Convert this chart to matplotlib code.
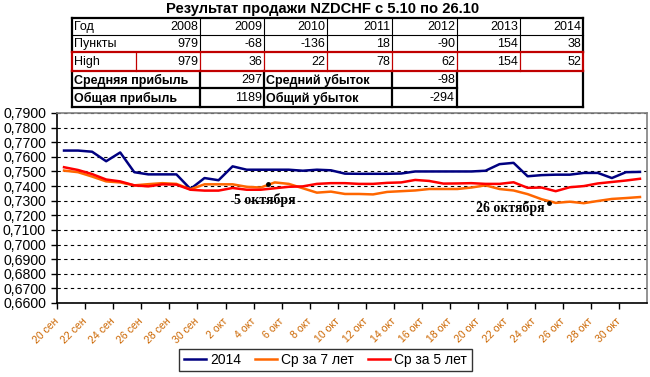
import matplotlib
matplotlib.use("Agg")
import matplotlib.pyplot as plt
from matplotlib import font_manager
from matplotlib.lines import Line2D
from matplotlib.ticker import FuncFormatter, MultipleLocator

# ---------------- data ----------------
tick_labels = ["20 сен", "22 сен", "24 сен", "26 сен", "28 сен", "30 сен",
               "2 окт", "4 окт", "6 окт", "8 окт", "10 окт", "12 окт", "14 окт",
               "16 окт", "18 окт", "20 окт", "22 окт", "24 окт", "26 окт",
               "28 окт", "30 окт"]

s2014 = [0.7643, 0.7643, 0.7635, 0.7570, 0.7630, 0.7495, 0.7480, 0.7480,
         0.7480, 0.7380, 0.7455, 0.7440, 0.7535, 0.7512, 0.7512, 0.7512,
         0.7512, 0.7505, 0.7512, 0.7508, 0.7485, 0.7484, 0.7484, 0.7484,
         0.7486, 0.7500, 0.7500, 0.7500, 0.7500, 0.7500, 0.7505, 0.7550,
         0.7559, 0.7467, 0.7475, 0.7478, 0.7478, 0.7490, 0.7490, 0.7455,
         0.7495, 0.7497]

avg7 = [0.7506, 0.7495, 0.7465, 0.7432, 0.7425, 0.7405, 0.7413, 0.7420,
        0.7415, 0.7378, 0.7412, 0.7412, 0.7412, 0.7395, 0.7390, 0.7425,
        0.7415, 0.7385, 0.7355, 0.7362, 0.7346, 0.7346, 0.7343, 0.7360,
        0.7365, 0.7370, 0.7380, 0.7380, 0.7380, 0.7390, 0.7405, 0.7380,
        0.7370, 0.7345, 0.7310, 0.7285, 0.7293, 0.7283, 0.7298, 0.7312,
        0.7318, 0.7325]

avg5 = [0.7529, 0.7510, 0.7482, 0.7445, 0.7432, 0.7405, 0.7398, 0.7412,
        0.7410, 0.7375, 0.7369, 0.7369, 0.7387, 0.7375, 0.7375, 0.7385,
        0.7395, 0.7398, 0.7415, 0.7420, 0.7420, 0.7415, 0.7415, 0.7422,
        0.7425, 0.7442, 0.7435, 0.7417, 0.7418, 0.7420, 0.7415, 0.7415,
        0.7426, 0.7388, 0.7390, 0.7365, 0.7392, 0.7400, 0.7418, 0.7428,
        0.7438, 0.7450]

series_names = ["2014", "Ср за 7 лет", "Ср за 5 лет"]

marks = [(15, 0.7415, "5 октября"), (35, 0.7287, "26 октября")]

title = "Результат продажи NZDCHF с 5.10 по 26.10"
years = ["2008", "2009", "2010", "2011", "2012", "2013", "2014"]
points = [979, -68, -136, 18, -90, 154, 38]
high = [979, 36, 22, 78, 62, 154, 52]
avg_profit, avg_loss = 297, -98
total_profit, total_loss = 1189, -294

# ---------------- fonts ----------------
def have(name):
    try:
        font_manager.findfont(name, fallback_to_default=False)
        return True
    except Exception:
        return False

narrow = "Liberation Sans Narrow" if have("Liberation Sans Narrow") else None
tfam = [narrow, "DejaVu Sans"] if narrow else ["Liberation Sans", "DejaVu Sans"]
tsize = 9.5 if narrow else 9.0
plt.rcParams["font.family"] = ["Liberation Sans", "DejaVu Sans"]

W, H = 650, 377
fig = plt.figure(figsize=(W / 100, H / 100), dpi=100)

# ---------------- chart ----------------
L, R, T, B = 57, 647, 113, 303
ax = fig.add_axes([L / W, (H - B) / H, (R - L) / W, (B - T) / H])
n = len(s2014)
xs = [i + 0.5 for i in range(n)]
ax.plot(xs, s2014, color="#000080", lw=1.8, label=series_names[0], zorder=3)
ax.plot(xs, avg7, color="#FF6600", lw=1.8, label=series_names[1], zorder=3)
ax.plot(xs, avg5, color="#FF0000", lw=1.8, label=series_names[2], zorder=3)

ax.set_xlim(0, 42)
ax.set_ylim(0.66, 0.79)
ax.yaxis.set_major_locator(MultipleLocator(0.01))
ax.yaxis.set_major_formatter(FuncFormatter(lambda v, p: f"{v:.4f}".replace(".", ",")))
ax.set_xticks(range(0, 2 * len(tick_labels), 2))
ax.set_xticklabels(tick_labels, rotation=45, ha="right", va="center",
                   rotation_mode="anchor", color="#CC6600", fontsize=7.6)
ax.tick_params(axis="x", length=4, width=1, pad=8, direction="out")
ax.tick_params(axis="y", length=4, width=1, pad=4, labelsize=10.2)
ax.grid(axis="y", color="black", linestyle=(0, (3, 3)), linewidth=0.8)
ax.spines["left"].set_color("black")
ax.spines["bottom"].set_color("black")
ax.spines["top"].set_color("#808080")
ax.spines["right"].set_color("#808080")
for s in ax.spines.values():
    s.set_linewidth(1.2)

for xv, yv, txt in marks:
    ax.plot([xv], [yv], "o", color="black", ms=2.5, zorder=4)
ax.text(14.8, 0.7307, marks[0][2], family=["Liberation Serif"], weight="bold",
        fontsize=10, ha="center", va="center", zorder=5)
ax.text(32.3, 0.7253, marks[1][2], family=["Liberation Serif"], weight="bold",
        fontsize=10, ha="center", va="center", zorder=5)

leg = fig.legend(loc="center", bbox_to_anchor=(325.5 / W, 1 - 360 / H), ncol=3,
                 frameon=True, fancybox=False, edgecolor="black", fontsize=10,
                 handlelength=1.6, handletextpad=0.3, columnspacing=1.0,
                 borderpad=0.3, borderaxespad=0)
leg.get_frame().set_linewidth(1.0)

# ---------------- table ----------------
ov = fig.add_axes([0, 0, 1, 1])
ov.set_xlim(0, W)
ov.set_ylim(H, 0)
ov.axis("off")

fig.text(323 / W, 1 - 8.5 / H, title, family=tfam, weight="bold",
         fontsize=10.6, ha="center", va="center")

x0, x1 = 72, 583
cols = [200, 264, 327, 392, 457, 520, 583]
rows = [18, 35, 52, 71, 88, 107]
blk, red = "black", "#C00000"

def hl(y, xa, xb, c, lw):
    ov.add_line(Line2D([xa, xb], [y, y], color=c, lw=lw, solid_capstyle="projecting"))

def vl(x, ya, yb, c, lw):
    ov.add_line(Line2D([x, x], [ya, yb], color=c, lw=lw, solid_capstyle="projecting"))

# rows 0-1
hl(rows[0], x0, x1, blk, 1.6)
hl(rows[1], x0, x1, blk, 0.8)
vl(x0, rows[0], rows[2], blk, 1.6)
vl(x1, rows[0], rows[2], blk, 1.6)
for c in cols[:-1]:
    vl(c, rows[0], rows[2], blk, 0.8)
# rows 3-4
hl(rows[5], x0, x1, blk, 1.6)
hl(rows[4], x0, 457, blk, 1.6)
vl(x0, rows[3], rows[5], blk, 1.6)
vl(x1, rows[3], rows[5], blk, 1.6)
for c in (200, 264, 392, 457):
    vl(c, rows[3], rows[5], blk, 1.6)
# High row (red)
for c in [136] + cols[:-1]:
    vl(c, rows[2], rows[3], red, 0.9)
hl(rows[2], x0, x1, red, 1.6)
hl(rows[3], x0, x1, red, 1.6)
vl(x0, rows[2], rows[3], red, 1.6)
vl(x1, rows[2], rows[3], red, 1.6)

def cell(x, r, s, ha="right", bold=False):
    yc = (rows[r] + rows[r + 1]) / 2 + 0.5
    ov.text(x, yc, s, family=tfam, fontsize=tsize, ha=ha, va="center",
            weight="bold" if bold else "normal")

cell(74, 0, "Год", "left")
cell(74, 1, "Пункты", "left")
cell(74, 2, "High", "left")
for i in range(7):
    cell(cols[i] - 2, 0, years[i])
    cell(cols[i] - 2, 1, str(points[i]))
    cell(cols[i] - 2, 2, str(high[i]))
cell(74, 3, "Средняя прибыль", "left", True)
cell(262, 3, str(avg_profit))
cell(266, 3, "Средний убыток", "left", True)
cell(455, 3, str(avg_loss))
cell(74, 4, "Общая прибыль", "left", True)
cell(262, 4, str(total_profit))
cell(266, 4, "Общий убыток", "left", True)
cell(455, 4, str(total_loss))

fig.savefig("out.png", dpi=100)
